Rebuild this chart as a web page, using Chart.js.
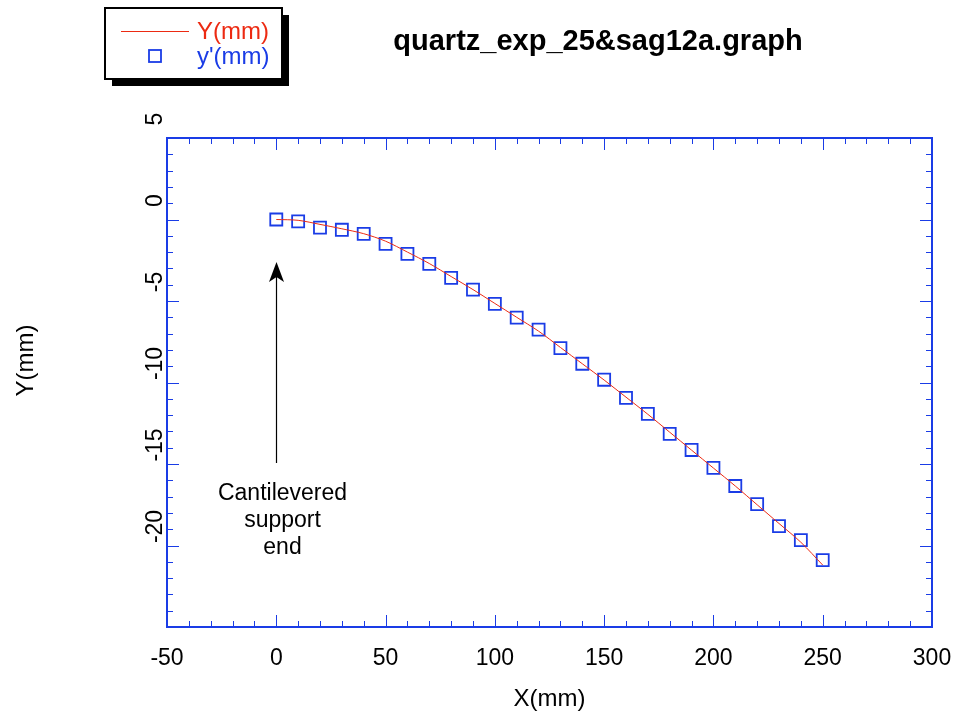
<!DOCTYPE html>
<html>
<head>
<meta charset="utf-8">
<script src="https://cdn.jsdelivr.net/npm/chart.js@4.4.1/dist/chart.umd.min.js"></script>
<style>
    html, body { margin: 0; padding: 0; background: #fff; }
    canvas { display: block; }
</style>
</head>
<body>
<canvas id="chart" width="958" height="712"></canvas>
<script>
// measured points (squares) and fitted curve, both in mm
const xValues = [0, 10, 20, 30, 40, 50, 60, 70, 80, 90, 100, 110, 120, 130, 140, 150, 160, 170, 180, 190, 200, 210, 220, 230, 240, 250];
const yMeasured = [0, -0.12, -0.5, -0.63, -0.88, -1.5, -2.11, -2.72, -3.58, -4.3, -5.18, -6.02, -6.76, -7.89, -8.85, -9.83, -10.94, -11.92, -13.15, -14.14, -15.24, -16.35, -17.46, -18.81, -19.67, -20.9];
const yFit = [0, -0.05, -0.3, -0.57, -0.87, -1.33, -2.0, -2.7, -3.5, -4.3, -5.15, -6.0, -6.85, -7.85, -8.85, -9.85, -10.9, -11.95, -13.05, -14.15, -15.25, -16.35, -17.5, -18.65, -19.8, -21.2];

const xTicks = [-50, 0, 50, 100, 150, 200, 250, 300];
const yTicks = [5, 0, -5, -10, -15, -20];

const chartTitle = 'quartz_exp_25&sag12a.graph';
const xTitle = 'X(mm)';
const yTitle = 'Y(mm)';
const noteLines = ['Cantilevered', 'support', 'end'];

const BLUE = '#1a3ce6';
const RED = '#ec2a12';
const FONT = '"Liberation Sans", Arial, Helvetica, sans-serif';

// cadre, graduations, textes, légende et flèche
const decorPlugin = {
    id: 'decor',
    beforeDatasetsDraw(chart) {
        const { ctx, chartArea: { left, right, top, bottom }, scales: { x, y } } = chart;
        ctx.save();
        ctx.strokeStyle = BLUE;
        ctx.lineWidth = 1;
        ctx.beginPath();
        for (let v = -50; v <= 300; v += 10) {
            const px = Math.round(x.getPixelForValue(v)) + 0.5;
            const len = v % 50 === 0 ? 12 : 6;
            ctx.moveTo(px, bottom); ctx.lineTo(px, bottom - len);
            ctx.moveTo(px, top); ctx.lineTo(px, top + len);
        }
        for (let v = -25; v <= 5; v += 1) {
            const py = Math.round(y.getPixelForValue(v)) + 0.5;
            const len = v % 5 === 0 ? 12 : 6;
            ctx.moveTo(left, py); ctx.lineTo(left + len, py);
            ctx.moveTo(right, py); ctx.lineTo(right - len, py);
        }
        ctx.stroke();
        ctx.lineWidth = 2;
        ctx.strokeRect(left, top, right - left, bottom - top);
        ctx.restore();
    },
    afterDraw(chart) {
        const { ctx, chartArea: { left, right, top, bottom }, scales: { x, y } } = chart;
        ctx.save();
        ctx.fillStyle = '#000';

        // x tick labels
        ctx.font = `23px ${FONT}`;
        ctx.textAlign = 'center';
        ctx.textBaseline = 'alphabetic';
        xTicks.forEach(v => ctx.fillText(String(v), x.getPixelForValue(v), 665));

        // y tick labels, rotated
        yTicks.forEach(v => {
            ctx.save();
            ctx.translate(161.5, y.getPixelForValue(v) - 19);
            ctx.rotate(-Math.PI / 2);
            ctx.fillText(String(v), 0, 0);
            ctx.restore();
        });

        // axis titles
        ctx.font = `24px ${FONT}`;
        ctx.fillText(xTitle, (left + right) / 2, 706);
        ctx.save();
        ctx.translate(33, (top + bottom) / 2 - 22);
        ctx.rotate(-Math.PI / 2);
        ctx.fillText(yTitle, 0, 0);
        ctx.restore();

        // title
        ctx.font = `bold 29px ${FONT}`;
        ctx.fillText(chartTitle, 598, 50);

        // annotation arrow at x = 0
        const ax = Math.round(x.getPixelForValue(0)) + 0.5;
        const tip = 262;
        ctx.strokeStyle = '#000';
        ctx.lineWidth = 1.2;
        ctx.beginPath();
        ctx.moveTo(ax, 463);
        ctx.lineTo(ax, tip + 14);
        ctx.stroke();
        ctx.beginPath();
        ctx.moveTo(ax, tip);
        ctx.lineTo(ax - 7.5, tip + 20);
        ctx.lineTo(ax, tip + 15);
        ctx.lineTo(ax + 7.5, tip + 20);
        ctx.closePath();
        ctx.fill();

        ctx.font = `23px ${FONT}`;
        ctx.textAlign = 'center';
        noteLines.forEach((t, i) => ctx.fillText(t, ax + 6, 500 + i * 27));

        // legend box with shadow
        const bx = 105, by = 8, bw = 177, bh = 71;
        ctx.fillStyle = '#000';
        ctx.fillRect(bx + 7, by + 7, bw, bh);
        ctx.fillStyle = '#fff';
        ctx.fillRect(bx, by, bw, bh);
        ctx.strokeStyle = '#000';
        ctx.lineWidth = 2;
        ctx.strokeRect(bx, by, bw, bh);

        ctx.strokeStyle = RED;
        ctx.lineWidth = 1;
        ctx.beginPath();
        ctx.moveTo(121, 31.5);
        ctx.lineTo(189, 31.5);
        ctx.stroke();
        ctx.strokeStyle = BLUE;
        ctx.lineWidth = 1.8;
        ctx.strokeRect(149, 50, 12, 12);

        ctx.font = `24px ${FONT}`;
        ctx.textAlign = 'left';
        ctx.fillStyle = RED;
        ctx.fillText(chart.data.datasets[0].label, 197, 39);
        ctx.fillStyle = BLUE;
        ctx.fillText(chart.data.datasets[1].label, 197, 64);
        ctx.restore();
    },
};

new Chart(document.getElementById('chart'), {
    type: 'line',
    plugins: [decorPlugin],
    data: {
        datasets: [
            {
                label: 'Y(mm)',
                data: xValues.map((v, i) => ({ x: v, y: yFit[i] })),
                borderColor: RED,
                borderWidth: 1,
                pointRadius: 0,
                tension: 0.3,
                fill: false,
            },
            {
                label: "y'(mm)",
                data: xValues.map((v, i) => ({ x: v, y: yMeasured[i] })),
                showLine: false,
                pointStyle: 'rect',
                pointRadius: 8.5,
                pointBorderWidth: 1.8,
                pointBorderColor: BLUE,
                pointBackgroundColor: 'rgba(0,0,0,0)',
            },
        ],
    },
    options: {
        responsive: false,
        animation: false,
        devicePixelRatio: 1,
        layout: { padding: { top: 138, right: 26, left: 0, bottom: 0 } },
        plugins: {
            legend: { display: false },
            title: { display: false },
            tooltip: { enabled: false },
        },
        scales: {
            x: {
                type: 'linear',
                min: -50,
                max: 300,
                ticks: { display: false },
                grid: { display: false, drawTicks: false },
                border: { display: false },
                afterFit: s => { s.height = 85; },
            },
            y: {
                type: 'linear',
                min: -25,
                max: 5,
                ticks: { display: false },
                grid: { display: false, drawTicks: false },
                border: { display: false },
                afterFit: s => { s.width = 167; },
            },
        },
    },
});
</script>
</body>
</html>
